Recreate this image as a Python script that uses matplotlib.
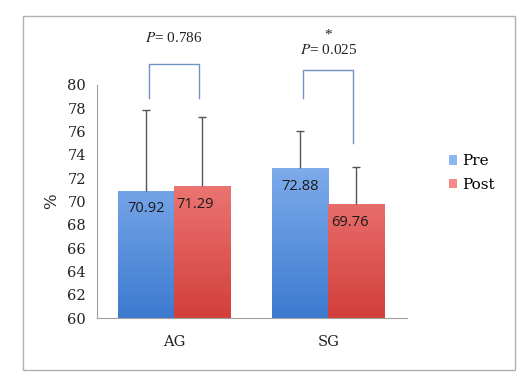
import numpy as np
import matplotlib.pyplot as plt
from matplotlib.colors import LinearSegmentedColormap
from matplotlib.patches import Rectangle

# data
groups = ['AG', 'SG']
series = ['Pre', 'Post']
pre_vals = [70.92, 72.88]
post_vals = [71.29, 69.76]
pre_err = [6.93, 3.17]
post_err = [5.96, 3.20]
p_labels = ['$P$= 0.786', '$P$= 0.025']
p_stars = ['', '*']

plt.rcParams['mathtext.fontset'] = 'stix'

fig = plt.figure(figsize=(5.25, 3.78), dpi=100)
fig.patches.append(Rectangle((23 / 525, 1 - 370 / 378), 492 / 525, 354 / 378,
                             transform=fig.transFigure, fill=False,
                             edgecolor='#b0b0b0', lw=1.0))
ax = fig.add_axes([97 / 525, 1 - 318 / 378, 310 / 525, 233 / 378])

x = np.arange(len(groups))
w = 0.365
blue = LinearSegmentedColormap.from_list('b', ['#3d7bd0', '#a2c6fa'])
red = LinearSegmentedColormap.from_list('r', ['#d33f3b', '#fc9e9c'])
grad = np.linspace(0, 1, 256).reshape(-1, 1)

bars_pre = ax.bar(x - w / 2, np.array(pre_vals) - 60, w, bottom=60,
                  color='#8fb6f2', label='Pre', zorder=2)
bars_post = ax.bar(x + w / 2, np.array(post_vals) - 60, w, bottom=60,
                   color='#f58a88', label='Post', zorder=2)
for bars, cmap in [(bars_pre, blue), (bars_post, red)]:
    for b in bars:
        x0 = b.get_x()
        im = ax.imshow(grad, cmap=cmap, origin='lower', aspect='auto',
                       extent=[x0, x0 + b.get_width(), 60, 80], zorder=2.1)
        im.set_clip_path(b)

for xs, vals, errs in [(x - w / 2, pre_vals, pre_err), (x + w / 2, post_vals, post_err)]:
    eb = ax.errorbar(xs, vals, yerr=[np.zeros(2), errs], fmt='none',
                     ecolor='#555555', elinewidth=1, capsize=3, capthick=1, zorder=3)
    eb[1][0].set_visible(False)

# value labels
for xi, v in zip(x - w / 2, pre_vals):
    ax.annotate(f'{v:.2f}', (xi, v), xytext=(0, -13), textcoords='offset points',
                ha='center', va='center', fontsize=10.5, color='#1a1a1a',
                family='Open Sans', zorder=4)
for xi, v in zip(x + w / 2, post_vals):
    ax.annotate(f'{v:.2f}', (xi, v), xytext=(-5, -13), textcoords='offset points',
                ha='center', va='center', fontsize=10.5, color='#1a1a1a',
                family='Open Sans', zorder=4)

# significance brackets
bkt_left = [78.9, 78.9]
bkt_right = [78.9, 75.0]
bkt_top = [81.8, 81.3]
for i in range(len(groups)):
    xl, xr = x[i] - w / 2 + 0.02, x[i] + w / 2 - 0.02
    ax.plot([xl, xl, xr, xr], [bkt_left[i], bkt_top[i], bkt_top[i], bkt_right[i]],
            color='#6f93c4', lw=1.0, clip_on=False, zorder=3)

ax.text(x[0], 84.0, p_labels[0], ha='center', va='center', fontsize=11,
        family='Liberation Serif', color='#222222')
ax.text(x[1], 84.3, p_stars[1], ha='center', va='center', fontsize=11,
        family='Liberation Serif', color='#222222')
ax.text(x[1], 83.0, p_labels[1], ha='center', va='center', fontsize=11,
        family='Liberation Serif', color='#222222')

ax.set_xlim(-0.5, 1.51)
ax.set_ylim(60, 80)
ax.set_yticks(np.arange(60, 81, 2))
ax.set_xticks(x)
ax.set_xticklabels(groups)
ax.tick_params(length=0, labelsize=10.5, colors='#222222', pad=8)
ax.tick_params(axis='x', pad=12)
for lab in ax.get_xticklabels() + ax.get_yticklabels():
    lab.set_family('DejaVu Serif')
ax.set_ylabel('%', fontsize=12, family='DejaVu Serif', labelpad=5, color='#222222')
for s in ['top', 'right']:
    ax.spines[s].set_visible(False)
for s in ['left', 'bottom']:
    ax.spines[s].set_color('#a0a0a0')

leg = fig.legend(handles=[bars_pre, bars_post], labels=series,
                 loc='center left', bbox_to_anchor=(435 / 525, 1 - 173 / 378),
                 frameon=False, handlelength=0.55, handleheight=0.55,
                 handletextpad=0.3, labelspacing=0.6,
                 prop={'family': 'DejaVu Serif', 'size': 11})

fig.savefig('out.png', dpi=100)
